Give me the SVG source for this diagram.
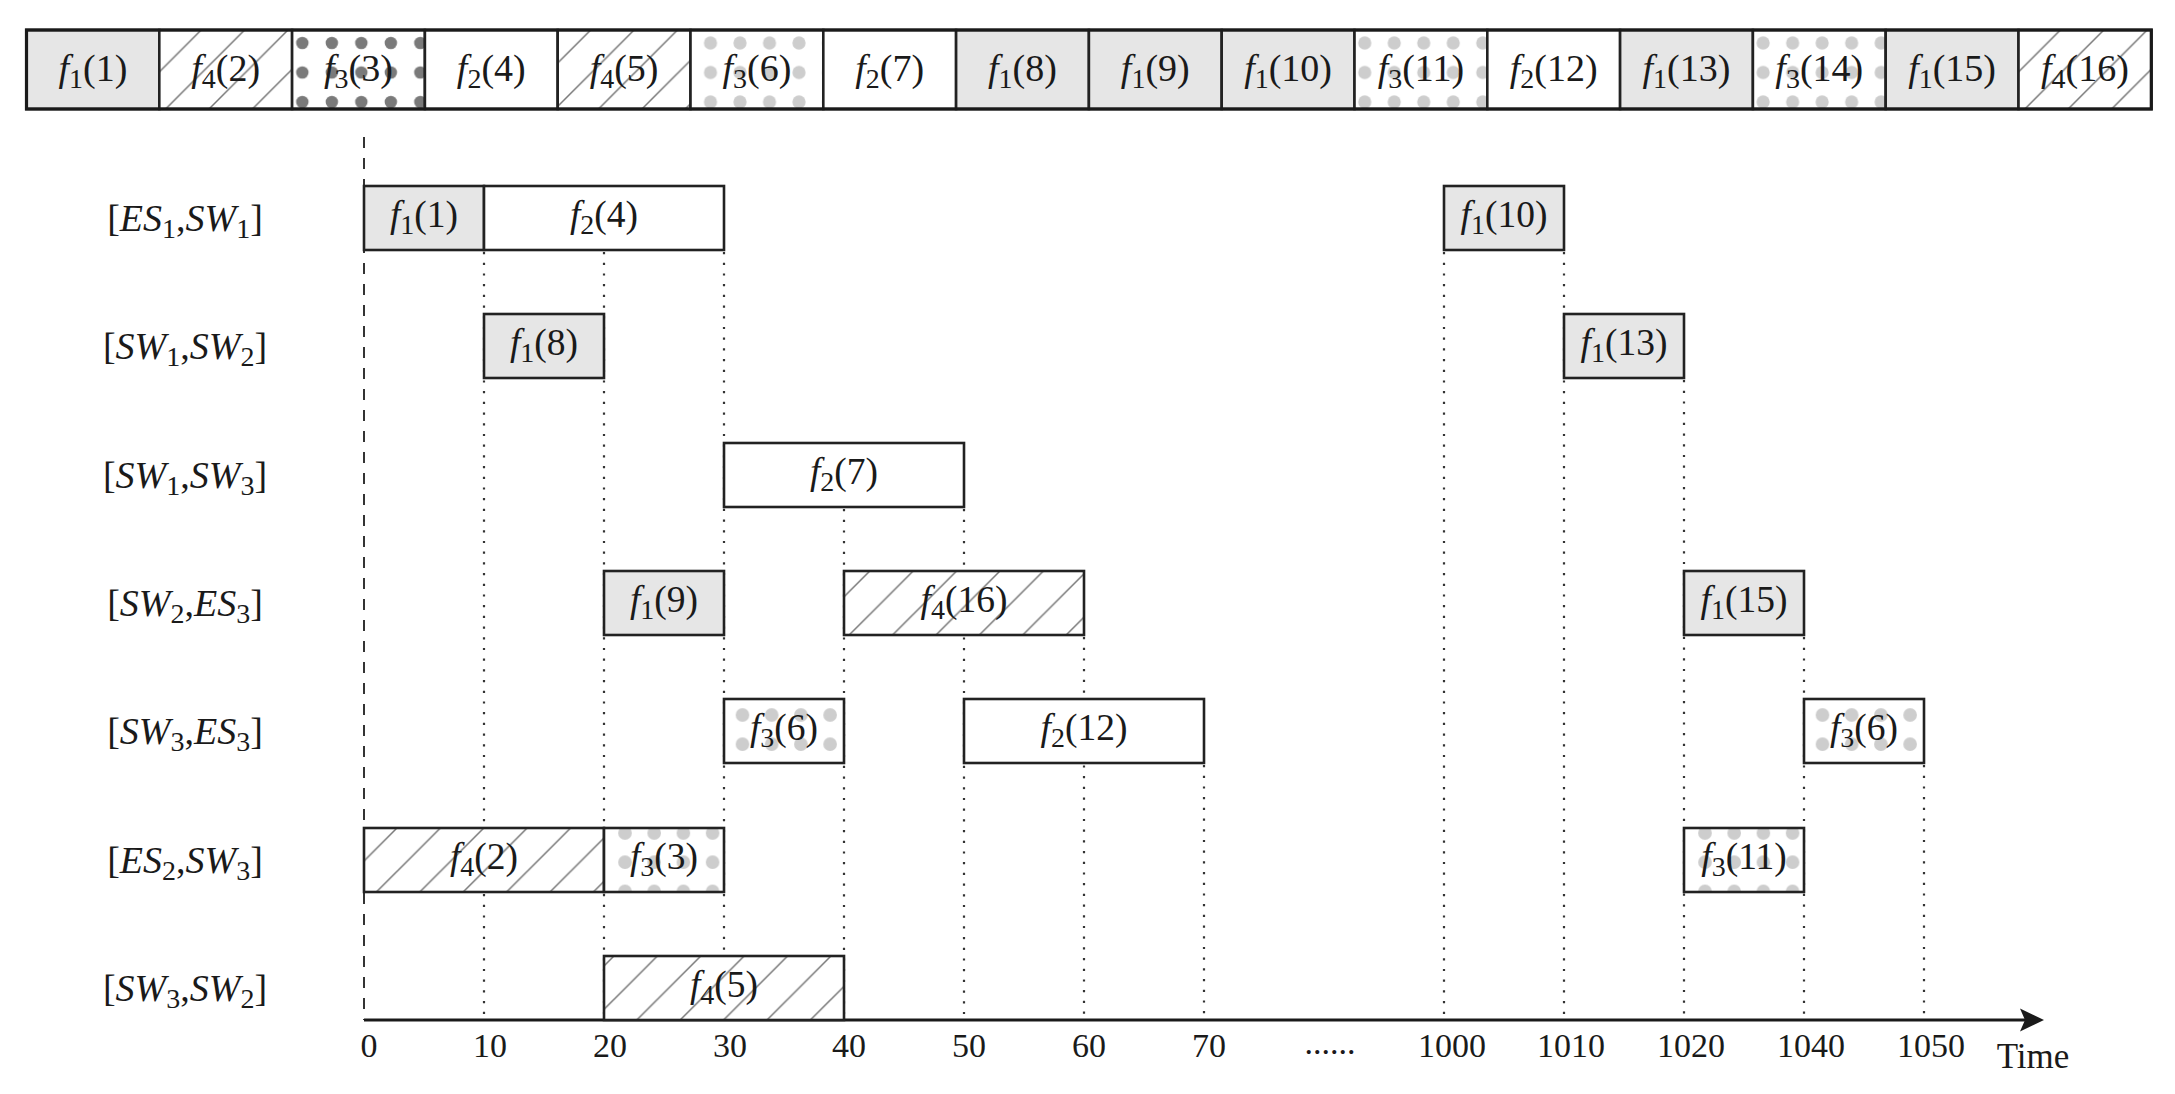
<svg xmlns="http://www.w3.org/2000/svg" width="2175" height="1094" viewBox="0 0 2175 1094">
<style>
.t{font-family:"Liberation Serif","Times New Roman",serif;fill:#1a1a1a}
.i{font-style:italic}
.bl{font-size:38px}
.cl{font-size:37.5px}
.rl{font-size:38px}
.tk{font-size:34px}
.bx{stroke:#222;stroke-width:2.6}
.gray{fill:#e6e6e6}
.white{fill:#fff}
.grid{stroke:#333;stroke-width:2.2;stroke-dasharray:2.2 8.5;fill:none}
.dash{stroke:#333;stroke-width:2;stroke-dasharray:11 10;fill:none}
.axis{stroke:#1a1a1a;stroke-width:3;fill:none}
</style>
<defs>
<pattern id="hA" patternUnits="userSpaceOnUse" x="-1.5" y="0" width="43.4" height="43.4"><rect width="43.4" height="43.4" fill="#fff"/><path d="M-5,5 L5,-5 M0,43.4 L43.4,0 M38.4,48.4 L48.4,38.4" stroke="#777" stroke-width="1.5"/></pattern>
<pattern id="hB" patternUnits="userSpaceOnUse" x="33" y="0" width="43.4" height="43.4"><rect width="43.4" height="43.4" fill="#fff"/><path d="M-5,5 L5,-5 M0,43.4 L43.4,0 M38.4,48.4 L48.4,38.4" stroke="#777" stroke-width="1.5"/></pattern>
<pattern id="hC" patternUnits="userSpaceOnUse" x="25.8" y="0" width="43.4" height="43.4"><rect width="43.4" height="43.4" fill="#fff"/><path d="M-5,5 L5,-5 M0,43.4 L43.4,0 M38.4,48.4 L48.4,38.4" stroke="#777" stroke-width="1.5"/></pattern>
<pattern id="hD" patternUnits="userSpaceOnUse" x="10" y="0" width="43.4" height="43.4"><rect width="43.4" height="43.4" fill="#fff"/><path d="M-5,5 L5,-5 M0,43.4 L43.4,0 M38.4,48.4 L48.4,38.4" stroke="#777" stroke-width="1.5"/></pattern>
<pattern id="dDark" patternUnits="userSpaceOnUse" x="-4.5" y="-1.75" width="29.5" height="29.5"><rect width="29.5" height="29.5" fill="#fff"/><circle cx="14.75" cy="14.75" r="6.2" fill="#7a7a7a"/></pattern>
<pattern id="dTop" patternUnits="userSpaceOnUse" x="-4.5" y="-1.75" width="29.5" height="29.5"><rect width="29.5" height="29.5" fill="#fff"/><circle cx="14.75" cy="14.75" r="6.6" fill="#cdcdcd"/></pattern>
<pattern id="dTop6" patternUnits="userSpaceOnUse" x="5.25" y="-1.75" width="29.5" height="29.5"><rect width="29.5" height="29.5" fill="#fff"/><circle cx="14.75" cy="14.75" r="6.6" fill="#cdcdcd"/></pattern>
<pattern id="dR5" patternUnits="userSpaceOnUse" x="3.9" y="1.4" width="29.2" height="29.2"><rect width="29.2" height="29.2" fill="#fff"/><circle cx="14.6" cy="14.6" r="6.8" fill="#cdcdcd"/></pattern>
<pattern id="dR6" patternUnits="userSpaceOnUse" x="6.4" y="-9.6" width="29.2" height="29.2"><rect width="29.2" height="29.2" fill="#fff"/><circle cx="14.6" cy="14.6" r="6.8" fill="#cdcdcd"/></pattern>
</defs>
<rect width="2175" height="1094" fill="#fff"/>

<g id="connectors">
<line class="dash" x1="364" y1="137" x2="364" y2="1020"/>
<line class="grid" x1="484" y1="252" x2="484" y2="1020"/>
<line class="grid" x1="604" y1="252" x2="604" y2="1020"/>
<line class="grid" x1="724" y1="252" x2="724" y2="1020"/>
<line class="grid" x1="844" y1="509" x2="844" y2="1020"/>
<line class="grid" x1="964" y1="509" x2="964" y2="1020"/>
<line class="grid" x1="1084" y1="637" x2="1084" y2="1020"/>
<line class="grid" x1="1204" y1="765" x2="1204" y2="1020"/>
<line class="grid" x1="1444" y1="252" x2="1444" y2="1020"/>
<line class="grid" x1="1564" y1="252" x2="1564" y2="1020"/>
<line class="grid" x1="1684" y1="380" x2="1684" y2="1020"/>
<line class="grid" x1="1804" y1="637" x2="1804" y2="1020"/>
<line class="grid" x1="1924" y1="765" x2="1924" y2="1020"/>
<line id="time-axis" class="axis" x1="364" y1="1020" x2="2026" y2="1020"/>
<polygon points="2044,1020 2020,1008.5 2025,1020 2020,1031.5" fill="#1a1a1a"/>
</g>

<g id="sequence-bar">
<g id="bar-1" transform="translate(26.5,30)"><rect class="bx gray" width="132.8" height="79"/><text class="t bl" x="66.4" y="51" text-anchor="middle"><tspan class="i">f</tspan><tspan font-size="28" dy="7">1</tspan><tspan dy="-7">(1)</tspan></text></g>
<g id="bar-2" transform="translate(159.3,30)"><rect class="bx" fill="url(#hA)" width="132.8" height="79"/><text class="t bl" x="66.4" y="51" text-anchor="middle"><tspan class="i">f</tspan><tspan font-size="28" dy="7">4</tspan><tspan dy="-7">(2)</tspan></text></g>
<g id="bar-3" transform="translate(292.1,30)"><rect class="bx" fill="url(#dDark)" width="132.8" height="79"/><text class="t bl" x="66.4" y="51" text-anchor="middle"><tspan class="i">f</tspan><tspan font-size="28" dy="7">3</tspan><tspan dy="-7">(3)</tspan></text></g>
<g id="bar-4" transform="translate(424.9,30)"><rect class="bx white" width="132.8" height="79"/><text class="t bl" x="66.4" y="51" text-anchor="middle"><tspan class="i">f</tspan><tspan font-size="28" dy="7">2</tspan><tspan dy="-7">(4)</tspan></text></g>
<g id="bar-5" transform="translate(557.7,30)"><rect class="bx" fill="url(#hB)" width="132.8" height="79"/><text class="t bl" x="66.4" y="51" text-anchor="middle"><tspan class="i">f</tspan><tspan font-size="28" dy="7">4</tspan><tspan dy="-7">(5)</tspan></text></g>
<g id="bar-6" transform="translate(690.5,30)"><rect class="bx" fill="url(#dTop6)" width="132.8" height="79"/><text class="t bl" x="66.4" y="51" text-anchor="middle"><tspan class="i">f</tspan><tspan font-size="28" dy="7">3</tspan><tspan dy="-7">(6)</tspan></text></g>
<g id="bar-7" transform="translate(823.3,30)"><rect class="bx white" width="132.8" height="79"/><text class="t bl" x="66.4" y="51" text-anchor="middle"><tspan class="i">f</tspan><tspan font-size="28" dy="7">2</tspan><tspan dy="-7">(7)</tspan></text></g>
<g id="bar-8" transform="translate(956.1,30)"><rect class="bx gray" width="132.8" height="79"/><text class="t bl" x="66.4" y="51" text-anchor="middle"><tspan class="i">f</tspan><tspan font-size="28" dy="7">1</tspan><tspan dy="-7">(8)</tspan></text></g>
<g id="bar-9" transform="translate(1088.9,30)"><rect class="bx gray" width="132.8" height="79"/><text class="t bl" x="66.4" y="51" text-anchor="middle"><tspan class="i">f</tspan><tspan font-size="28" dy="7">1</tspan><tspan dy="-7">(9)</tspan></text></g>
<g id="bar-10" transform="translate(1221.7,30)"><rect class="bx gray" width="132.8" height="79"/><text class="t bl" x="66.4" y="51" text-anchor="middle"><tspan class="i">f</tspan><tspan font-size="28" dy="7">1</tspan><tspan dy="-7">(10)</tspan></text></g>
<g id="bar-11" transform="translate(1354.5,30)"><rect class="bx" fill="url(#dTop)" width="132.8" height="79"/><text class="t bl" x="66.4" y="51" text-anchor="middle"><tspan class="i">f</tspan><tspan font-size="28" dy="7">3</tspan><tspan dy="-7">(11)</tspan></text></g>
<g id="bar-12" transform="translate(1487.3,30)"><rect class="bx white" width="132.8" height="79"/><text class="t bl" x="66.4" y="51" text-anchor="middle"><tspan class="i">f</tspan><tspan font-size="28" dy="7">2</tspan><tspan dy="-7">(12)</tspan></text></g>
<g id="bar-13" transform="translate(1620.1,30)"><rect class="bx gray" width="132.8" height="79"/><text class="t bl" x="66.4" y="51" text-anchor="middle"><tspan class="i">f</tspan><tspan font-size="28" dy="7">1</tspan><tspan dy="-7">(13)</tspan></text></g>
<g id="bar-14" transform="translate(1752.9,30)"><rect class="bx" fill="url(#dTop)" width="132.8" height="79"/><text class="t bl" x="66.4" y="51" text-anchor="middle"><tspan class="i">f</tspan><tspan font-size="28" dy="7">3</tspan><tspan dy="-7">(14)</tspan></text></g>
<g id="bar-15" transform="translate(1885.7,30)"><rect class="bx gray" width="132.8" height="79"/><text class="t bl" x="66.4" y="51" text-anchor="middle"><tspan class="i">f</tspan><tspan font-size="28" dy="7">1</tspan><tspan dy="-7">(15)</tspan></text></g>
<g id="bar-16" transform="translate(2018.5,30)"><rect class="bx" fill="url(#hA)" width="132.8" height="79"/><text class="t bl" x="66.4" y="51" text-anchor="middle"><tspan class="i">f</tspan><tspan font-size="28" dy="7">4</tspan><tspan dy="-7">(16)</tspan></text></g>
<rect x="26.5" y="30" width="2124.8" height="79" fill="none" stroke="#1a1a1a" stroke-width="3.2"/>
</g>

<g id="row-labels">
<text class="t rl" x="185" y="231" text-anchor="middle">[<tspan class="i">ES</tspan><tspan font-size="28" dy="7">1</tspan><tspan dy="-7">,</tspan><tspan class="i">SW</tspan><tspan font-size="28" dy="7">1</tspan><tspan dy="-7">]</tspan></text>
<text class="t rl" x="185" y="359" text-anchor="middle">[<tspan class="i">SW</tspan><tspan font-size="28" dy="7">1</tspan><tspan dy="-7">,</tspan><tspan class="i">SW</tspan><tspan font-size="28" dy="7">2</tspan><tspan dy="-7">]</tspan></text>
<text class="t rl" x="185" y="488" text-anchor="middle">[<tspan class="i">SW</tspan><tspan font-size="28" dy="7">1</tspan><tspan dy="-7">,</tspan><tspan class="i">SW</tspan><tspan font-size="28" dy="7">3</tspan><tspan dy="-7">]</tspan></text>
<text class="t rl" x="185" y="616" text-anchor="middle">[<tspan class="i">SW</tspan><tspan font-size="28" dy="7">2</tspan><tspan dy="-7">,</tspan><tspan class="i">ES</tspan><tspan font-size="28" dy="7">3</tspan><tspan dy="-7">]</tspan></text>
<text class="t rl" x="185" y="744" text-anchor="middle">[<tspan class="i">SW</tspan><tspan font-size="28" dy="7">3</tspan><tspan dy="-7">,</tspan><tspan class="i">ES</tspan><tspan font-size="28" dy="7">3</tspan><tspan dy="-7">]</tspan></text>
<text class="t rl" x="185" y="873" text-anchor="middle">[<tspan class="i">ES</tspan><tspan font-size="28" dy="7">2</tspan><tspan dy="-7">,</tspan><tspan class="i">SW</tspan><tspan font-size="28" dy="7">3</tspan><tspan dy="-7">]</tspan></text>
<text class="t rl" x="185" y="1001" text-anchor="middle">[<tspan class="i">SW</tspan><tspan font-size="28" dy="7">3</tspan><tspan dy="-7">,</tspan><tspan class="i">SW</tspan><tspan font-size="28" dy="7">2</tspan><tspan dy="-7">]</tspan></text>
</g>

<g id="schedule">
<g id="r1-f1-1" transform="translate(364,186)"><rect class="bx gray" width="120" height="64"/><text class="t cl" x="60" y="41" text-anchor="middle"><tspan class="i">f</tspan><tspan font-size="28" dy="7">1</tspan><tspan dy="-7">(1)</tspan></text></g>
<g id="r1-f2-4" transform="translate(484,186)"><rect class="bx white" width="240" height="64"/><text class="t cl" x="120" y="41" text-anchor="middle"><tspan class="i">f</tspan><tspan font-size="28" dy="7">2</tspan><tspan dy="-7">(4)</tspan></text></g>
<g id="r1-f1-10" transform="translate(1444,186)"><rect class="bx gray" width="120" height="64"/><text class="t cl" x="60" y="41" text-anchor="middle"><tspan class="i">f</tspan><tspan font-size="28" dy="7">1</tspan><tspan dy="-7">(10)</tspan></text></g>

<g id="r2-f1-8" transform="translate(484,314)"><rect class="bx gray" width="120" height="64"/><text class="t cl" x="60" y="41" text-anchor="middle"><tspan class="i">f</tspan><tspan font-size="28" dy="7">1</tspan><tspan dy="-7">(8)</tspan></text></g>
<g id="r2-f1-13" transform="translate(1564,314)"><rect class="bx gray" width="120" height="64"/><text class="t cl" x="60" y="41" text-anchor="middle"><tspan class="i">f</tspan><tspan font-size="28" dy="7">1</tspan><tspan dy="-7">(13)</tspan></text></g>

<g id="r3-f2-7" transform="translate(724,443)"><rect class="bx white" width="240" height="64"/><text class="t cl" x="120" y="41" text-anchor="middle"><tspan class="i">f</tspan><tspan font-size="28" dy="7">2</tspan><tspan dy="-7">(7)</tspan></text></g>

<g id="r4-f1-9" transform="translate(604,571)"><rect class="bx gray" width="120" height="64"/><text class="t cl" x="60" y="41" text-anchor="middle"><tspan class="i">f</tspan><tspan font-size="28" dy="7">1</tspan><tspan dy="-7">(9)</tspan></text></g>
<g id="r4-f4-16" transform="translate(844,571)"><rect class="bx" fill="url(#hC)" width="240" height="64"/><text class="t cl" x="120" y="41" text-anchor="middle"><tspan class="i">f</tspan><tspan font-size="28" dy="7">4</tspan><tspan dy="-7">(16)</tspan></text></g>
<g id="r4-f1-15" transform="translate(1684,571)"><rect class="bx gray" width="120" height="64"/><text class="t cl" x="60" y="41" text-anchor="middle"><tspan class="i">f</tspan><tspan font-size="28" dy="7">1</tspan><tspan dy="-7">(15)</tspan></text></g>

<g id="r5-f3-6a" transform="translate(724,699)"><rect class="bx" fill="url(#dR5)" width="120" height="64"/><text class="t cl" x="60" y="41" text-anchor="middle"><tspan class="i">f</tspan><tspan font-size="28" dy="7">3</tspan><tspan dy="-7">(6)</tspan></text></g>
<g id="r5-f2-12" transform="translate(964,699)"><rect class="bx white" width="240" height="64"/><text class="t cl" x="120" y="41" text-anchor="middle"><tspan class="i">f</tspan><tspan font-size="28" dy="7">2</tspan><tspan dy="-7">(12)</tspan></text></g>
<g id="r5-f3-6b" transform="translate(1804,699)"><rect class="bx" fill="url(#dR5)" width="120" height="64"/><text class="t cl" x="60" y="41" text-anchor="middle"><tspan class="i">f</tspan><tspan font-size="28" dy="7">3</tspan><tspan dy="-7">(6)</tspan></text></g>

<g id="r6-f4-2" transform="translate(364,828)"><rect class="bx" fill="url(#hB)" width="240" height="64"/><text class="t cl" x="120" y="41" text-anchor="middle"><tspan class="i">f</tspan><tspan font-size="28" dy="7">4</tspan><tspan dy="-7">(2)</tspan></text></g>
<g id="r6-f3-3" transform="translate(604,828)"><rect class="bx" fill="url(#dR6)" width="120" height="64"/><text class="t cl" x="60" y="41" text-anchor="middle"><tspan class="i">f</tspan><tspan font-size="28" dy="7">3</tspan><tspan dy="-7">(3)</tspan></text></g>
<g id="r6-f3-11" transform="translate(1684,828)"><rect class="bx" fill="url(#dR6)" width="120" height="64"/><text class="t cl" x="60" y="41" text-anchor="middle"><tspan class="i">f</tspan><tspan font-size="28" dy="7">3</tspan><tspan dy="-7">(11)</tspan></text></g>

<g id="r7-f4-5" transform="translate(604,956)"><rect class="bx" fill="url(#hD)" width="240" height="64"/><text class="t cl" x="120" y="41" text-anchor="middle"><tspan class="i">f</tspan><tspan font-size="28" dy="7">4</tspan><tspan dy="-7">(5)</tspan></text></g>
</g>

<g id="ticks" class="t tk" text-anchor="middle">
<text x="369" y="1057">0</text>
<text x="490" y="1057">10</text>
<text x="610" y="1057">20</text>
<text x="730" y="1057">30</text>
<text x="849" y="1057">40</text>
<text x="969" y="1057">50</text>
<text x="1089" y="1057">60</text>
<text x="1209" y="1057">70</text>
<text x="1330" y="1054">......</text>
<text x="1452" y="1057">1000</text>
<text x="1571" y="1057">1010</text>
<text x="1691" y="1057">1020</text>
<text x="1811" y="1057">1040</text>
<text x="1931" y="1057">1050</text>
<text x="2033" y="1068" font-size="35">Time</text>
</g>
</svg>
